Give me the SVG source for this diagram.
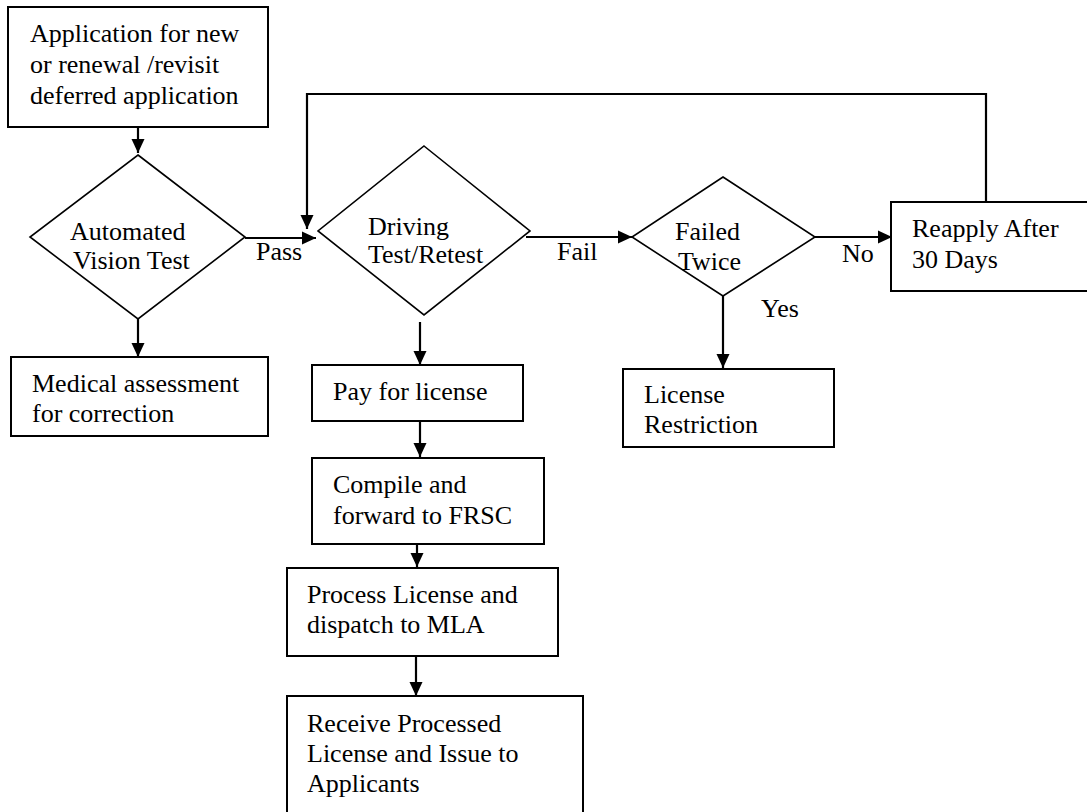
<svg xmlns="http://www.w3.org/2000/svg" width="1087" height="812" viewBox="0 0 1087 812">
<style>
.box{fill:#fff;stroke:#000;stroke-width:2}
.dia{fill:#fff;stroke:#000;stroke-width:1.6}
text{font-family:'Liberation Serif','Times New Roman',Times,'DejaVu Serif',serif;font-size:26px;fill:#000}
.c{fill:none;stroke:#000;stroke-width:2.2}
</style>
<defs>
<marker id="ah" markerUnits="userSpaceOnUse" markerWidth="16" markerHeight="16" viewBox="0 0 16 16" refX="15" refY="8" orient="auto">
<path d="M1,1.5 L15,8 L1,14.5 Z" fill="#000"/>
</marker>
</defs>
<rect width="1087" height="812" fill="#fff"/>
<g id="connectors">
<path class="c" d="M138,127 V153" marker-end="url(#ah)"/>
<path class="c" d="M138,319 V357" marker-end="url(#ah)"/>
<path class="c" d="M245,238 H316" marker-end="url(#ah)"/>
<path class="c" d="M986,202 V94 H307 V229" marker-end="url(#ah)"/>
<path class="c" d="M420,322 V365" marker-end="url(#ah)"/>
<path class="c" d="M420,421 V457" marker-end="url(#ah)"/>
<path class="c" d="M417,544 V567" marker-end="url(#ah)"/>
<path class="c" d="M416,656 V696" marker-end="url(#ah)"/>
<path class="c" d="M526,237 H632" marker-end="url(#ah)"/>
<path class="c" d="M815,237 H892" marker-end="url(#ah)"/>
<path class="c" d="M723,296 V368" marker-end="url(#ah)"/>
<text x="256" y="260">Pass</text>
<text x="557" y="260">Fail</text>
<text x="842" y="262">No</text>
<text x="761" y="317">Yes</text>
</g>
<g id="application">
<rect class="box" x="8" y="7" width="260" height="120"/>
<text x="30" y="42">Application for new</text>
<text x="30" y="73">or renewal /revisit</text>
<text x="30" y="104">deferred application</text>
</g>
<g id="vision">
<polygon class="dia" points="138,155 245,237 138,319 30,237"/>
<text x="70" y="240">Automated</text>
<text x="73" y="269">Vision Test</text>
</g>
<g id="medical">
<rect class="box" x="11" y="357" width="257" height="79"/>
<text x="32" y="392">Medical assessment</text>
<text x="32" y="422">for correction</text>
</g>
<g id="driving">
<polygon class="dia" points="424,146 530,231 424,315 318,231"/>
<text x="368" y="235">Driving</text>
<text x="368" y="263">Test/Retest</text>
</g>
<g id="failed">
<polygon class="dia" points="723,177 815,237 723,296 632,237"/>
<text x="675" y="240">Failed</text>
<text x="678" y="270">Twice</text>
</g>
<g id="reapply">
<rect class="box" x="891" y="202" width="200" height="89"/>
<text x="912" y="237">Reapply After</text>
<text x="912" y="268">30 Days</text>
</g>
<g id="restriction">
<rect class="box" x="623" y="369" width="211" height="78"/>
<text x="644" y="403">License</text>
<text x="644" y="433">Restriction</text>
</g>
<g id="pay">
<rect class="box" x="312" y="365" width="211" height="56"/>
<text x="333" y="400">Pay for license</text>
</g>
<g id="compile">
<rect class="box" x="312" y="458" width="232" height="86"/>
<text x="333" y="493">Compile and</text>
<text x="333" y="524">forward to FRSC</text>
</g>
<g id="process">
<rect class="box" x="287" y="568" width="271" height="88"/>
<text x="307" y="603">Process License and</text>
<text x="307" y="633">dispatch to MLA</text>
</g>
<g id="receive">
<rect class="box" x="287" y="696" width="296" height="125"/>
<text x="307" y="732">Receive Processed</text>
<text x="307" y="762">License and Issue to</text>
<text x="307" y="792">Applicants</text>
</g>
</svg>
